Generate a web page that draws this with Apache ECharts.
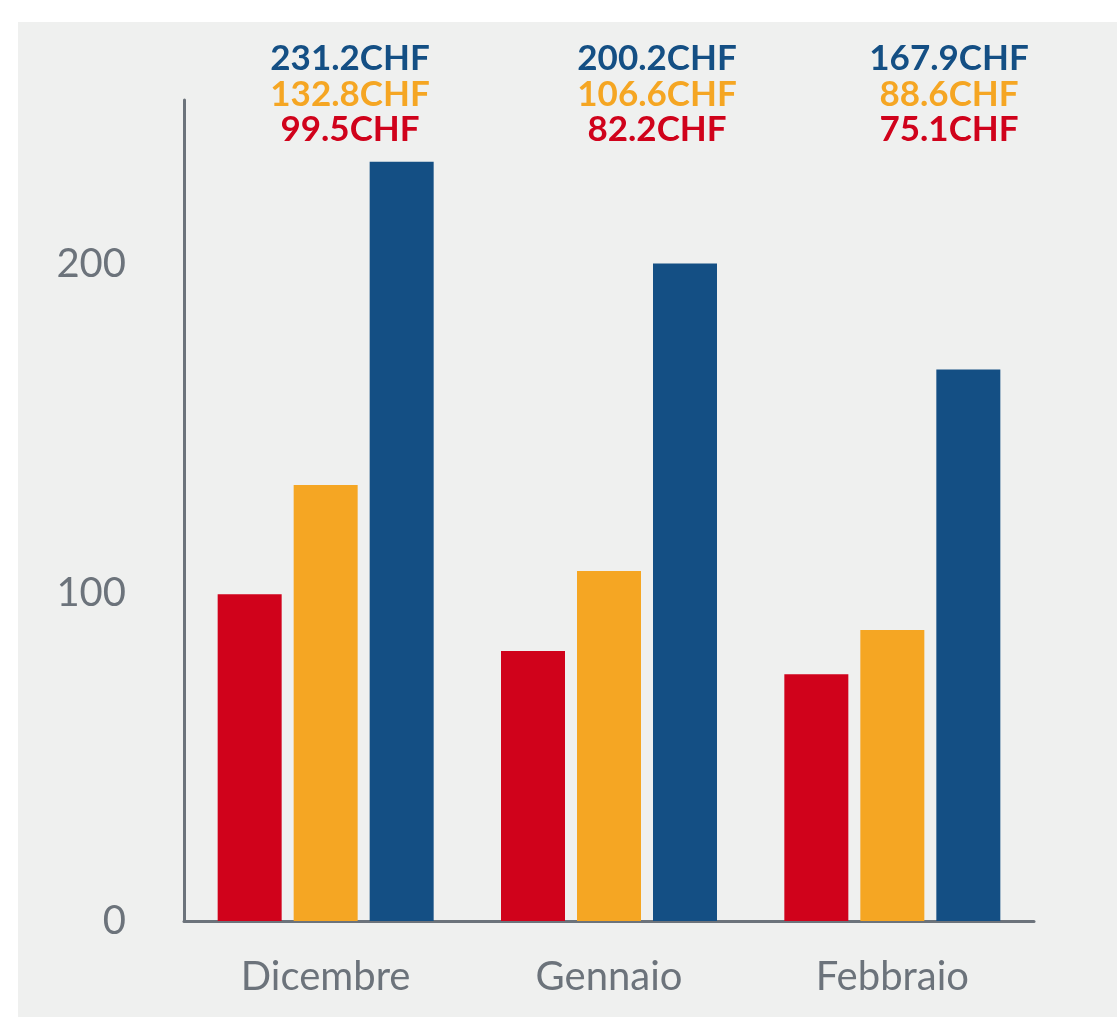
<!DOCTYPE html>
<html>
<head>
<meta charset="utf-8">
<title></title>
<script src="https://cdn.jsdelivr.net/npm/echarts@6/dist/echarts.min.js"></script>
<style>
  html, body { margin: 0; padding: 0; background: #ffffff; }
  #main { width: 1117px; height: 1019px; }
</style>
</head>
<body>
<div id="main"></div>
<script type="text/javascript">
// dati
var mesi = ['Dicembre', 'Gennaio', 'Febbraio'];
var serieRossa = [99.5, 82.2, 75.1];
var serieArancio = [132.8, 106.6, 88.6];
var serieBlu = [231.2, 200.2, 167.9];
var unita = 'CHF';

var rosso = '#d0021b', arancio = '#f5a623', blu = '#144f84', grigio = '#6c737b';

// etichette in alto, una colonna per mese
var etichetteX = [350, 657, 949];
var etichette = [];
for (var i = 0; i < mesi.length; i++) {
  var righe = [[serieBlu[i], blu, 59], [serieArancio[i], arancio, 95], [serieRossa[i], rosso, 130]];
  for (var k = 0; k < righe.length; k++) {
    etichette.push({
      type: 'text',
      x: etichetteX[i],
      y: righe[k][2],
      style: {
        text: righe[k][0].toFixed(1) + unita,
        fill: righe[k][1],
        font: 'bold 35px Lato',
        align: 'center',
        verticalAlign: 'middle'
      }
    });
  }
}

var myChart = echarts.init(document.getElementById('main'));
myChart.setOption({
  backgroundColor: '#ffffff',
  animation: false,
  graphic: [{
    type: 'rect',
    z: -10,
    shape: { x: 18, y: 22, width: 1099, height: 995 },
    style: { fill: '#eff0ef' }
  }].concat(etichette),
  grid: { left: 184, right: 83, top: 100, bottom: 98 },
  xAxis: {
    type: 'category',
    data: mesi,
    axisLine: { lineStyle: { color: grigio, width: 3 } },
    axisTick: { show: false },
    axisLabel: { color: grigio, fontFamily: 'Lato', fontSize: 40, margin: 36 }
  },
  yAxis: {
    type: 'value',
    min: 0,
    max: 250,
    interval: 100,
    splitLine: { show: false },
    axisLine: { show: true, lineStyle: { color: grigio, width: 3 } },
    axisTick: { show: false },
    axisLabel: { color: grigio, fontFamily: 'Lato', fontSize: 40, margin: 58, showMaxLabel: false }
  },
  series: [
    { type: 'bar', data: serieRossa, barWidth: 64, barGap: '18.75%', itemStyle: { color: rosso } },
    { type: 'bar', data: serieArancio, barWidth: 64, barGap: '18.75%', itemStyle: { color: arancio } },
    { type: 'bar', data: serieBlu, barWidth: 64, barGap: '18.75%', itemStyle: { color: blu } }
  ]
});
</script>
</body>
</html>
